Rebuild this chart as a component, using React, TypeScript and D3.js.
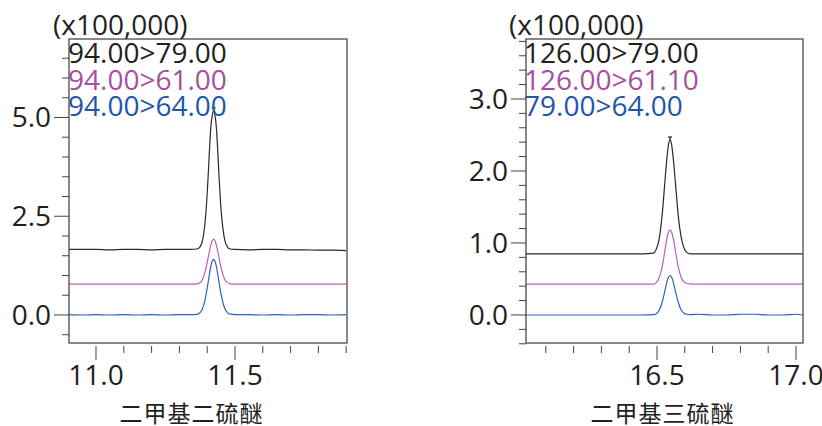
import React from "react";
import * as d3 from "d3";

// ---------- data ----------
const leftTimes = [10.903, 10.95, 11.0, 11.05, 11.1, 11.15, 11.2, 11.25, 11.3, 11.34, 11.363, 11.373, 11.383, 11.393, 11.398, 11.403, 11.408, 11.413, 11.418, 11.423, 11.428, 11.433, 11.438, 11.443, 11.448, 11.453, 11.463, 11.473, 11.483, 11.5, 11.55, 11.6, 11.65, 11.7, 11.75, 11.8, 11.85, 11.9];
const left_94_79 = [1.66, 1.66, 1.66, 1.65, 1.66, 1.66, 1.65, 1.66, 1.66, 1.66, 1.67, 1.71, 1.88, 2.40, 2.85, 3.45, 4.15, 4.75, 5.05, 5.17, 5.05, 4.75, 4.15, 3.45, 2.85, 2.42, 1.90, 1.72, 1.67, 1.66, 1.65, 1.66, 1.66, 1.65, 1.65, 1.64, 1.64, 1.63];
const left_94_61 = [0.78, 0.78, 0.78, 0.78, 0.78, 0.78, 0.78, 0.78, 0.78, 0.78, 0.79, 0.815, 0.90, 1.11, 1.26, 1.44, 1.61, 1.77, 1.88, 1.92, 1.88, 1.77, 1.61, 1.44, 1.26, 1.11, 0.90, 0.82, 0.79, 0.78, 0.78, 0.78, 0.78, 0.78, 0.78, 0.78, 0.78, 0.78];
const left_94_64 = [0.01, 0.0, 0.01, 0.0, 0.01, 0.0, 0.01, 0.0, 0.01, 0.01, 0.015, 0.05, 0.16, 0.41, 0.60, 0.81, 1.03, 1.23, 1.36, 1.41, 1.36, 1.23, 1.03, 0.81, 0.60, 0.42, 0.17, 0.06, 0.02, 0.01, 0.01, 0.0, 0.01, 0.0, 0.01, 0.01, 0.0, 0.01];

const rightTimes = [16.028, 16.1, 16.15, 16.2, 16.25, 16.3, 16.35, 16.4, 16.45, 16.487, 16.497, 16.507, 16.517, 16.522, 16.527, 16.532, 16.537, 16.542, 16.547, 16.552, 16.557, 16.562, 16.567, 16.572, 16.577, 16.587, 16.597, 16.607, 16.62, 16.65, 16.7, 16.75, 16.8, 16.85, 16.9, 16.95, 17.0, 17.025];
const right_126_79 = [0.85, 0.85, 0.85, 0.85, 0.85, 0.85, 0.85, 0.85, 0.85, 0.86, 0.91, 1.04, 1.33, 1.54, 1.78, 2.02, 2.23, 2.38, 2.43, 2.38, 2.23, 2.03, 1.80, 1.57, 1.36, 1.08, 0.93, 0.87, 0.85, 0.85, 0.85, 0.85, 0.85, 0.85, 0.85, 0.85, 0.85, 0.85];
const right_126_61 = [0.43, 0.43, 0.43, 0.43, 0.43, 0.43, 0.43, 0.43, 0.43, 0.43, 0.45, 0.51, 0.64, 0.74, 0.86, 0.98, 1.09, 1.155, 1.18, 1.155, 1.09, 0.99, 0.87, 0.76, 0.66, 0.52, 0.46, 0.44, 0.43, 0.43, 0.43, 0.43, 0.43, 0.43, 0.43, 0.43, 0.43, 0.43];
const right_79_64 = [0.0, 0.0, 0.0, 0.0, 0.0, 0.0, 0.0, 0.0, 0.0, 0.004, 0.018, 0.06, 0.156, 0.23, 0.31, 0.40, 0.48, 0.528, 0.546, 0.528, 0.48, 0.40, 0.32, 0.24, 0.17, 0.07, 0.025, 0.01, 0.005, 0.01, 0.0, 0.0, 0.01, 0.01, 0.0, 0.0, 0.01, 0.0];

const leftLegend = ["94.00>79.00", "94.00>61.00", "94.00>64.00"];
const rightLegend = ["126.00>79.00", "126.00>61.10", "79.00>64.00"];
const seriesColors = ["#231f20", "#a4509e", "#1e56a8"];
const lineColors = ["#2a2a2a", "#b862b8", "#2a62c0"];

const leftYTicks = [-0.5, 0, 0.5, 1, 1.5, 2, 2.5, 3, 3.5, 4, 4.5, 5, 5.5, 6, 6.5];
const leftYLabels = [0, 2.5, 5];
const leftXTicks = [11.0, 11.1, 11.2, 11.3, 11.4, 11.5, 11.6, 11.7, 11.8, 11.9];
const leftXLabels = [11.0, 11.5];

const rightYTicks = [-0.4, -0.2, 0, 0.2, 0.4, 0.6, 0.8, 1, 1.2, 1.4, 1.6, 1.8, 2, 2.2, 2.4, 2.6, 2.8, 3, 3.2, 3.4, 3.6, 3.8];
const rightYLabels = [0, 1, 2, 3];
const rightXTicks = [16.1, 16.2, 16.3, 16.4, 16.5, 16.6, 16.7, 16.8, 16.9, 17.0];
const rightXLabels = [16.5, 17.0];

const titles = ["二甲基二硫醚", "二甲基三硫醚"];
const scaleLabel = "(x100,000)";

const NUM_FONT = "'Open Sans', 'DejaVu Sans', sans-serif";
const CJK_FONT = "'Noto Sans CJK SC', sans-serif";

type PanelProps = {
  times: number[];
  series: number[][];
  legend: string[];
  xDomain: [number, number];
  yDomain: [number, number];
  box: { x0: number; x1: number; y0: number; y1: number };
  yTicks: number[];
  yLabels: number[];
  xTicks: number[];
  xLabels: number[];
  title: string;
  titleX: number;
  scaleX: number;
  legendX: number;
};

function Panel(p: PanelProps) {
  const x = d3.scaleLinear().domain(p.xDomain).range([p.box.x0, p.box.x1]);
  const y = d3.scaleLinear().domain(p.yDomain).range([p.box.y1, p.box.y0]);
  const isMajorY = (v: number) => p.yLabels.some((l) => Math.abs(l - v) < 1e-6);
  const isMajorX = (v: number) => p.xLabels.some((l) => Math.abs(l - v) < 1e-6);
  const line = d3
    .line<number>()
    .x((_, i) => x(p.times[i]))
    .y((d) => y(d))
    .curve(d3.curveMonotoneX);
  const black = p.series[0];
  const apexIdx = black.indexOf(Math.max(...black));
  const ax = x(p.times[apexIdx]);
  const ay = y(black[apexIdx]);
  return (
    <g>
      <defs>
        <clipPath id={`clip-${p.box.x0}`}>
          <rect x={p.box.x0} y={p.box.y0} width={p.box.x1 - p.box.x0} height={p.box.y1 - p.box.y0} />
        </clipPath>
      </defs>
      {p.yTicks.map((v) => (
        <line
          key={`yt${v}`}
          x1={p.box.x0 - (isMajorY(v) ? 15 : 7)}
          x2={p.box.x0}
          y1={y(v)}
          y2={y(v)}
          stroke="#444"
          strokeWidth={1}
        />
      ))}
      {p.yLabels.map((v) => (
        <text
          key={`yl${v}`}
          x={p.box.x0 - 18}
          y={y(v) + 10}
          textAnchor="end"
          fontFamily={NUM_FONT}
          fontSize={28}
          fill="#231f20"
        >
          {v.toFixed(1)}
        </text>
      ))}
      {p.xTicks.map((v) => (
        <line
          key={`xt${v}`}
          x1={x(v)}
          x2={x(v)}
          y1={p.box.y1 + 3}
          y2={p.box.y1 + (isMajorX(v) ? 17 : 10)}
          stroke="#444"
          strokeWidth={1}
        />
      ))}
      {p.xLabels.map((v) => (
        <text
          key={`xl${v}`}
          x={x(v)}
          y={385}
          textAnchor="middle"
          fontFamily={NUM_FONT}
          fontSize={28}
          fill="#231f20"
        >
          {v.toFixed(1)}
        </text>
      ))}
      <g clipPath={`url(#clip-${p.box.x0})`}>
        {p.series
          .slice()
          .reverse()
          .map((s, ri) => {
            const i = p.series.length - 1 - ri;
            return (
              <path
                key={`s${i}`}
                d={line(s) || ""}
                fill="none"
                stroke={lineColors[i]}
                strokeWidth={1.2}
              />
            );
          })}
      </g>
      <line x1={ax - 2} x2={ax + 2} y1={ay - 3} y2={ay - 3} stroke="#222" strokeWidth={1.2} />
      <line x1={ax} x2={ax} y1={ay - 3} y2={ay} stroke="#222" strokeWidth={1.2} />
      <rect
        x={p.box.x0}
        y={p.box.y0}
        width={p.box.x1 - p.box.x0}
        height={p.box.y1 - p.box.y0}
        fill="none"
        stroke="#3a3a3a"
        strokeWidth={1.2}
      />
      {p.legend.map((t, i) => (
        <text
          key={`lg${i}`}
          x={p.legendX}
          y={63 + i * 26.5}
          fontFamily={NUM_FONT}
          fontSize={28}
          fill={seriesColors[i]}
        >
          {t}
        </text>
      ))}
      <text x={p.scaleX} y={35} fontFamily={NUM_FONT} fontSize={28} fill="#231f20">
        {scaleLabel}
      </text>
      <text
        x={p.titleX + 0.5}
        y={422}
        textAnchor="middle"
        fontFamily={CJK_FONT}
        fontSize={23}
        letterSpacing={1}
        fill="#222"
      >
        {p.title}
      </text>
    </g>
  );
}

export default function App() {
  return (
    <div style={{ position: "fixed", left: 0, top: 0 }}>
      <svg width={822} height={426} viewBox="0 0 822 426" style={{ display: "block", background: "#fff" }}>
        <Panel
          times={leftTimes}
          series={[left_94_79, left_94_61, left_94_64]}
          legend={leftLegend}
          xDomain={[10.9029, 11.9029]}
          yDomain={[-0.709, 6.987]}
          box={{ x0: 69, x1: 347, y0: 39, y1: 343 }}
          yTicks={leftYTicks}
          yLabels={leftYLabels}
          xTicks={leftXTicks}
          xLabels={leftXLabels}
          title={titles[0]}
          titleX={191}
          scaleX={53}
          legendX={68}
        />
        <Panel
          times={rightTimes}
          series={[right_126_79, right_126_61, right_79_64]}
          legend={rightLegend}
          xDomain={[16.0288, 17.0252]}
          yDomain={[-0.389, 3.833]}
          box={{ x0: 526, x1: 803, y0: 39, y1: 343 }}
          yTicks={rightYTicks}
          yLabels={rightYLabels}
          xTicks={rightXTicks}
          xLabels={rightXLabels}
          title={titles[1]}
          titleX={662}
          scaleX={509}
          legendX={524}
        />
      </svg>
    </div>
  );
}
